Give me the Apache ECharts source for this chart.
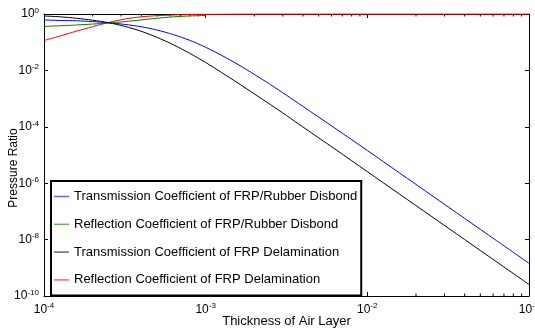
<!DOCTYPE html>
<html><head><meta charset="utf-8">
<script src="https://cdn.jsdelivr.net/npm/echarts@6/dist/echarts.min.js"></script>
<style>html,body{margin:0;padding:0;background:#fff}#c{width:535px;height:332px}</style>
</head><body><div id="c"></div>
<script>
// Values, stored as log10 (decades)
const logThickTrans = [-4.0,-3.9,-3.8,-3.7,-3.6,-3.5,-3.4,-3.3,-3.2,-3.1,-3.0,-2.9,-2.8,-2.7,-2.6,-2.5,-2.4,-2.2,-2.0,-1.8,-1.6,-1.4,-1.2,-1.0];
const logTransRubber = [-0.21,-0.23,-0.24,-0.27,-0.31,-0.37,-0.45,-0.57,-0.73,-0.93,-1.18,-1.47,-1.79,-2.14,-2.50,-2.88,-3.27,-4.05,-4.84,-5.64,-6.44,-7.24,-8.04,-8.84];
const logTransDelam  = [-0.07,-0.10,-0.15,-0.22,-0.31,-0.44,-0.61,-0.83,-1.09,-1.39,-1.72,-2.08,-2.45,-2.83,-3.21,-3.60,-4.00,-4.79,-5.59,-6.39,-7.19,-7.99,-8.79,-9.59];
const logThickReflRubber = [-4.0,-3.8,-3.6,-3.5,-3.4,-3.3,-3.2,-3.1,-3.0];
const logReflRubber      = [-0.44,-0.39,-0.32,-0.27,-0.21,-0.15,-0.10,-0.07,-0.05];
const logThickReflDelam = [-4.0,-3.9,-3.8,-3.7,-3.6,-3.5,-3.4,-3.3,-3.2,-3.1,-3.0,-2.5,-2.0,-1.5,-1.0];
const logReflDelam      = [-0.94,-0.78,-0.61,-0.45,-0.30,-0.18,-0.10,-0.06,-0.035,-0.02,-0.012,-0.004,-0.004,-0.004,-0.004];

const seriesNames = [
  'Transmission Coefficient of FRP/Rubber Disbond',
  'Reflection Coefficient of FRP/Rubber Disbond',
  'Transmission Coefficient of FRP Delamination',
  'Reflection Coefficient of FRP Delamination'
];
const seriesColors = ['#0000ff', '#008000', '#000000', '#ff0000'];
const xRange = [1e-4, 1e-1];
const yRange = [1e-10, 1];
const yLabelTicks = [1e-10, 1e-8, 1e-6, 1e-4, 1e-2, 1];
const xMinorTicks = [2e-4,3e-4,4e-4,5e-4,6e-4,7e-4,8e-4,9e-4,
                     2e-3,3e-3,4e-3,5e-3,6e-3,7e-3,8e-3,9e-3,
                     2e-2,3e-2,4e-2,5e-2,6e-2,7e-2,8e-2,9e-2];

const toPts = (xs, ys) => xs.map((x, i) => [Math.pow(10, x), Math.pow(10, ys[i])]);
const FONT = '"Liberation Sans", Arial, sans-serif';
const expFmt = v => '{b|10}{s|' + Math.round(Math.log10(v)) + '}';
const rich = {
  b: {fontSize: 12, fontFamily: FONT, color: '#000'},
  s: {fontSize: 8, fontFamily: FONT, color: '#000', padding: [0, 0, 7, 0]}
};

const chart = echarts.init(document.getElementById('c'), null, {renderer: 'canvas'});
const lineSeries = (name, data, color) => ({
  name, type: 'line', data, symbol: 'none', smooth: 0.3,
  lineStyle: {color, width: 1}, itemStyle: {color}, z: 3, clip: false
});

chart.setOption({
  animation: false,
  backgroundColor: '#fff',
  grid: {left: 44, right: 6, top: 14, bottom: 36, containLabel: false, outerBoundsMode: 'none'},
  legend: {
    data: seriesNames, orient: 'vertical', left: 51, top: 181,
    icon: 'rect', itemWidth: 15, itemHeight: 1.5, itemGap: 14.8,
    padding: [9, 4, 9, 3],
    borderColor: '#000', borderWidth: 2, backgroundColor: '#fff',
    textStyle: {fontSize: 13, fontFamily: FONT, color: '#000'},
    itemStyle: {opacity: 0.6},
    selectedMode: false
  },
  xAxis: [{
    type: 'log', logBase: 10, min: xRange[0], max: xRange[1],
    name: 'Thickness of Air Layer', nameLocation: 'middle', nameGap: 19, nameMoveOverlap: false,
    nameTextStyle: {fontSize: 13, fontFamily: FONT, color: '#000'},
    axisLine: {lineStyle: {color: '#000', width: 1}},
    axisTick: {inside: true, length: 4, lineStyle: {color: '#000'}},
    axisLabel: {formatter: expFmt, rich, margin: 6, hideOverlap: false},
    splitLine: {show: false}
  }, {
    type: 'log', logBase: 10, min: xRange[0], max: xRange[1], position: 'top',
    axisLine: {lineStyle: {color: '#000', width: 1}},
    axisTick: {inside: true, length: 4, lineStyle: {color: '#000'}},
    axisLabel: {show: false}, splitLine: {show: false}
  }],
  yAxis: [{
    type: 'log', logBase: 10, min: yRange[0], max: yRange[1],
    name: 'Pressure Ratio', nameLocation: 'middle', nameGap: 24, nameMoveOverlap: false,
    nameTextStyle: {fontSize: 12, fontFamily: FONT, color: '#000', padding: [0, 26, 0, 0]},
    axisLine: {lineStyle: {color: '#000', width: 1}},
    axisTick: {inside: true, length: 4, lineStyle: {color: '#000'}, customValues: yLabelTicks},
    axisLabel: {formatter: expFmt, rich, margin: 5, customValues: yLabelTicks},
    splitLine: {show: false}
  }, {
    type: 'log', logBase: 10, min: yRange[0], max: yRange[1], position: 'right',
    axisLine: {lineStyle: {color: '#000', width: 1}},
    axisTick: {inside: true, length: 4, lineStyle: {color: '#000'}, customValues: yLabelTicks},
    axisLabel: {show: false}, splitLine: {show: false}
  }],
  series: [
    lineSeries(seriesNames[0], toPts(logThickTrans, logTransRubber), seriesColors[0]),
    lineSeries(seriesNames[3], toPts(logThickReflDelam, logReflDelam), seriesColors[3]),
    lineSeries(seriesNames[1], toPts(logThickReflRubber, logReflRubber), seriesColors[1]),
    lineSeries(seriesNames[2], toPts(logThickTrans, logTransDelam), seriesColors[2]),
    {
      type: 'custom', silent: true, z: 1, clip: false,
      data: xMinorTicks.map(v => [v, yRange[1]]),
      renderItem: (params, api) => {
        const x = api.value(0);
        const b = api.coord([x, yRange[0]]);
        const t = api.coord([x, yRange[1]]);
        return {type: 'group', children: [
          {type: 'line', shape: {x1: b[0], y1: b[1], x2: b[0], y2: b[1] - 2.5}, style: {stroke: '#000', lineWidth: 1}},
          {type: 'line', shape: {x1: t[0], y1: t[1], x2: t[0], y2: t[1] + 2.5}, style: {stroke: '#000', lineWidth: 1}}
        ]};
      }
    }
  ]
});
</script></body></html>
